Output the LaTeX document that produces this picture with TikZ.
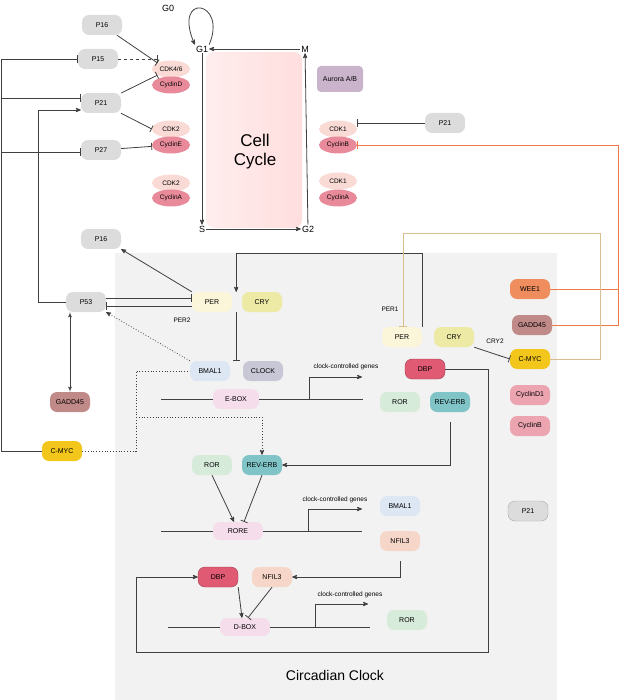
\documentclass[tikz,border=0pt]{standalone}
\usepackage{fontspec}
\setmainfont{Liberation Sans}
\usetikzlibrary{arrows,shapes.geometric,calc}
\definecolor{gbox}{HTML}{DCDCDC}
\definecolor{perc}{HTML}{FBF6DA}
\definecolor{cryc}{HTML}{EDEAA6}
\definecolor{bmalc}{HTML}{DDE7F4}
\definecolor{clockc}{HTML}{C8C7D6}
\definecolor{eboxc}{HTML}{F6DDEC}
\definecolor{dbpc}{HTML}{E05A73}
\definecolor{rorc}{HTML}{D6EBDA}
\definecolor{revc}{HTML}{80C4C8}
\definecolor{nfilc}{HTML}{F6D6C9}
\definecolor{weec}{HTML}{F08D5E}
\definecolor{gaddc}{HTML}{C08A88}
\definecolor{mycc}{HTML}{F2C61A}
\definecolor{cycc}{HTML}{ECA4B1}
\definecolor{cdkc}{HTML}{F9DAD5}
\definecolor{cyclinc}{HTML}{E88A9A}
\definecolor{aurc}{HTML}{CAB4CC}
\definecolor{orangel}{HTML}{EE7A45}
\definecolor{tanl}{HTML}{D8BE8E}
\tikzset{
  prot/.style={draw=none,rounded corners=7pt,minimum width=40pt,minimum height=20pt,inner sep=1pt,font=\fontsize{7}{8}\selectfont},
  gprot/.style={prot,fill=gbox},
  cdk/.style={ellipse,fill=cdkc,minimum width=38pt,minimum height=17pt,inner sep=0pt,font=\fontsize{6.5}{7}\selectfont},
  cyclin/.style={cdk,fill=cyclinc},
  phase/.style={font=\fontsize{9}{10}\selectfont,inner sep=1pt},
  lbl/.style={font=\fontsize{6.5}{7}\selectfont,inner sep=1pt},
  link/.style={draw=black!75,thick},
  act/.style={link,-stealth'},
  inh/.style={link,-|},
}
\begin{document}
\begin{tikzpicture}[x=1pt,y=-1pt]
\useasboundingbox (0,0) rectangle (619,700);
% circadian background
\fill[black!5] (115,253) rectangle (557,700);
\node[font=\fontsize{14}{16}\selectfont] (cclock) at (335,675) {Circadian Clock};
% cell cycle
\shade[left color=red!7,right color=red!13,rounded corners=8pt] (206,52) rectangle (302,228);
\node[font=\fontsize{17}{19}\selectfont,align=center] (ccyc) at (255,152) {Cell\\Cycle};
\node[phase] (g1) at (202,49) {G1};
\node[phase] (m) at (305,49) {M};
\node[phase] (s) at (202,229) {S};
\node[phase] (g2) at (308,229) {G2};
\node[phase] (g0) at (168,8) {G0};
\draw[act] (m) -- (g1);
\draw[act] (g1) -- (s);
\draw[act] (s) -- (g2);
\draw[act] (g2) -- (m);
\draw[act] (g1.north east) .. controls (228,0) and (172,-8) .. (g1.north west);

\node[gprot] (p16a) at (102,25) {P16};
\node[gprot] (p15) at (98,59) {P15};
\node[gprot] (p21a) at (101,103) {P21};
\node[gprot] (p27) at (101,150) {P27};
\node[cdk] (cdk46) at (171,69) {CDK4/6};
\node[cyclin] (cycd) at (171,85) {CyclinD};
\node[cdk] (cdk2a) at (171,129) {CDK2};
\node[cyclin] (cyce) at (171,145) {CyclinE};
\node[cdk] (cdk2b) at (171,183) {CDK2};
\node[cyclin] (cyca) at (171,198) {CyclinA};
\node[prot,fill=aurc,rounded corners=4pt,minimum width=46pt,minimum height=26pt] (aur) at (340,79) {Aurora A/B};
\node[cdk] (cdk1a) at (338,129) {CDK1};
\node[cyclin] (cycb) at (338,145) {CyclinB};
\node[cdk] (cdk1b) at (338,181) {CDK1};
\node[cyclin] (cyca2) at (338,198) {CyclinA};
\node[gprot] (p21b) at (445,123) {P21};

\draw[inh] (p16a) -- (cdk46.north west);
\draw[inh,dashed] (p15) -- (cdk46.north west |- p15);
\draw[inh] (p21a) -- (cdk46.south west);
\draw[inh] (p21a) -- (cdk2a.west);
\draw[inh] (p27) -- (cyce);
\draw[inh] (p21b.west) -- (cdk1a.east |- p21b.west);

% circadian clock nodes
\node[gprot] (p16b) at (101,239) {P16};
\node[gprot] (p53) at (86,302) {P53};
\node[prot,fill=perc] (per) at (212,302) {PER};
\node[prot,fill=cryc] (cry) at (262,302) {CRY};
\node[lbl] (per2) at (182,320) {PER2};
\node[prot,fill=bmalc] (bmal) at (210,371) {BMAL1};
\node[prot,fill=clockc] (clk) at (263,371) {CLOCK};
\node[prot,fill=eboxc,minimum width=46pt] (ebox) at (236,399) {E-BOX};
\node[prot,fill=dbpc,draw=dbpc!70!black] (dbp) at (425,369) {DBP};
\node[prot,fill=rorc] (ror) at (400,402) {ROR};
\node[prot,fill=revc] (rev) at (450,402) {REV-ERB};
\node[prot,fill=perc] (perr) at (402,337) {PER};
\node[prot,fill=cryc] (cryr) at (454,337) {CRY};
\node[lbl] (per1) at (390,309) {PER1};
\node[lbl] (cry2) at (495,341) {CRY2};
\node[prot,fill=gaddc] (gadd) at (70,402) {GADD45};
\node[prot,fill=mycc] (myc) at (62,451) {C-MYC};
\node[prot,fill=weec] (wee) at (530,289) {WEE1};
\node[prot,fill=gaddc] (gaddr) at (532,325) {GADD45};
\node[prot,fill=mycc] (mycr) at (530,359) {C-MYC};
\node[prot,fill=cycc] (cycd1) at (530,395) {CyclinD1};
\node[prot,fill=cycc] (cycbr) at (530,426) {CyclinB};
\node[gprot,draw=black!35] (p21c) at (528,511) {P21};
\node[prot,fill=rorc] (ror2) at (212,465) {ROR};
\node[prot,fill=revc] (rev2) at (262,465) {REV-ERB};
\node[prot,fill=eboxc,minimum width=50pt,minimum height=18pt] (rore) at (238,531) {RORE};
\node[prot,fill=bmalc] (bmal2) at (400,506) {BMAL1};
\node[prot,fill=nfilc] (nfil) at (400,541) {NFIL3};
\node[prot,fill=dbpc,draw=dbpc!70!black] (dbp2) at (218,577) {DBP};
\node[prot,fill=nfilc] (nfil2) at (272,577) {NFIL3};
\node[prot,fill=eboxc,minimum width=50pt,minimum height=18pt] (dbox) at (245,627) {D-BOX};
\node[prot,fill=rorc] (ror3) at (407,620) {ROR};

% connectors
\draw[act] (per.north west) -- (p16b.south east);
\draw[inh] ([yshift=-4pt]per.west) -- ([yshift=-4pt]p53.east);
\draw[inh] ([yshift=4pt]p53.east) -- ([yshift=4pt]per.west);
\draw[inh] ([xshift=4pt]per.south east) -- ([xshift=4pt]per.south east |- clk.north west);
\draw[act] (perr.north east) -- ++(0,-73) -| ([xshift=4pt]per.north east);
\draw[act,latex'-latex'] (gadd.north |- p53.south) -- (gadd.north);
\draw[act] (p53.west) -- (38,302) |- (p21a.west |- 0,110);
\draw[inh] (myc.west) -- (1,451) |- (p15.west);
\draw[inh] (1,98) -- (p21a.west |- 0,98);
\draw[inh] (1,152) -- (p27.west |- 0,152);
\draw[act,dotted] (bmal.north west) -- (p53.south east);
\draw[link,dotted] (myc.east) -- (136,451) |- (bmal.west);
\draw[act,dotted] (136,417) -| (rev2.north);
\draw[link] (161,399) -- (ebox.west);
\draw[link] (ebox.east) -- (363,399);
\coordinate (eb) at (309,399);
\draw[act] (eb) |- (362,377);
\node[lbl] (ccg1) at (346,367) {clock-controlled genes};
\draw[inh] (cryr.south east) -- (mycr.west);
\draw[act] (rev.south) ++(0,10) |- (rev2.east);
\draw[act] (ror2.south) -- ([xshift=-4pt]rore.north);
\draw[inh] (rev2.south) -- ([xshift=6pt]rore.north);
\draw[link] (161,531) -- (rore.west);
\draw[link] (rore.east) -- (362,531);
\draw[act] (308,531) |- (362,509);
\node[lbl] (ccg2) at (335,500) {clock-controlled genes};
\draw[act] (nfil.south) ++(0,10) |- (nfil2.east);
\draw[act] (dbp2.south east) -- ([xshift=-3pt]dbox.north);
\draw[inh] (nfil2.south) -- ([xshift=3pt]dbox.north);
\draw[link] (168,627) -- (dbox.west);
\draw[link] (dbox.east) -- (370,627);
\draw[act] (315,627) |- (368,604);
\node[lbl] (ccg3) at (350,595) {clock-controlled genes};
\draw[act] (dbp.east) -| (488,652) -| (136,577) -- (dbp2.west);
% cross links
\draw[inh,draw=orangel] (618,289) |- (cycb.east);
\draw[link,draw=orangel] (wee.east) -- (618,289) -- (618,325) -- (gaddr.east);
\draw[inh,draw=tanl] (mycr.east) -- (600,359) |- (403,233) -- (perr.north -| 403,0);
\end{tikzpicture}
\end{document}
